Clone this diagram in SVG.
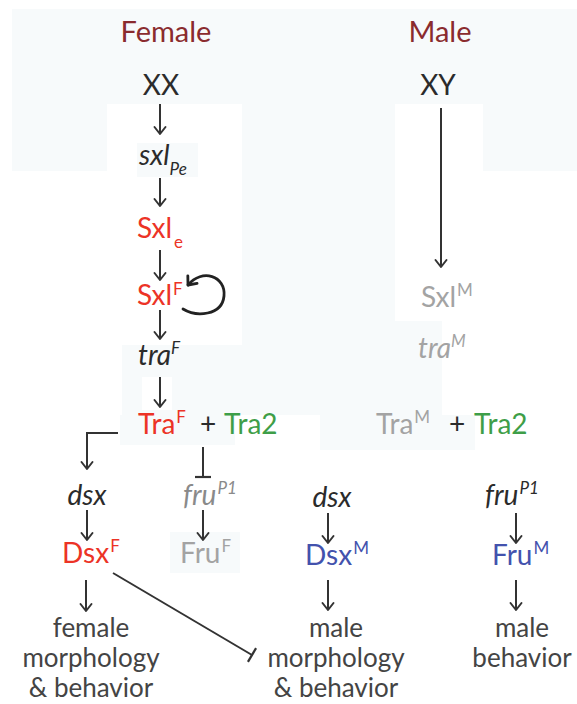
<svg xmlns="http://www.w3.org/2000/svg" width="577" height="704" viewBox="0 0 577 704">
<defs>
<style>
text{font-family:Lato,"Open Sans","Liberation Sans",sans-serif;font-size:26px;fill:#2b2b2b}
.it{font-style:italic;font-size:28px}
.p{font-size:28px}
.title{font-size:29px;fill:#8a2b2e}
.red{fill:#ec3326}
.grn{fill:#3e9e48}
.blu{fill:#4352ad}
.gry{fill:#a3a3a3}
.gr2{fill:#8a8a8a}
.lbl{fill:#444;text-anchor:middle}
.sm{font-size:17px}
.bg{fill:#f7fafb}
.wh{fill:#fff}
.ar{stroke:#333;stroke-width:2;fill:none}
</style>
<marker id="ah" markerUnits="userSpaceOnUse" viewBox="-10 -8 12 16" markerWidth="12" markerHeight="16" refX="0" refY="0" orient="auto">
<path d="M-7,-5.5 L0,0 L-7,5.5" fill="none" stroke="#333" stroke-width="2" stroke-linecap="round" stroke-linejoin="round"/>
</marker>
<marker id="tb" markerUnits="userSpaceOnUse" viewBox="-2 -10 4 20" markerWidth="4" markerHeight="20" refX="0" refY="0" orient="auto">
<path d="M0,-8 L0,8" fill="none" stroke="#333" stroke-width="2.2"/>
</marker>
<marker id="ah2" markerUnits="userSpaceOnUse" viewBox="-10 -8 12 16" markerWidth="12" markerHeight="16" refX="0" refY="0" orient="auto">
<path d="M-7,-6 L0,0 L-7,6" fill="none" stroke="#222" stroke-width="2.8" stroke-linecap="round" stroke-linejoin="round"/>
</marker>
</defs>
<rect width="577" height="704" fill="#fff"/>
<g id="background">
<rect class="bg" x="12" y="9" width="565" height="95"/>
<rect class="bg" x="12" y="104" width="95" height="67"/>
<rect class="bg" x="483" y="104" width="94" height="67"/>
<rect class="bg" x="242" y="104" width="153" height="241"/>
<rect class="bg" x="395" y="321" width="47" height="24"/>
<rect class="bg" x="122" y="345" width="320" height="70"/>
<rect class="wh" x="142" y="377" width="30" height="33"/>
<rect class="bg" x="120" y="415" width="115" height="30"/>
<rect class="bg" x="320" y="415" width="155" height="35"/>
<rect class="bg" x="137" y="143" width="61" height="34"/>
<rect class="bg" x="170" y="532" width="70" height="41"/>
</g>
<g id="connectors">
<line class="ar" x1="160" y1="104" x2="160" y2="134" marker-end="url(#ah)"/>
<line class="ar" x1="160" y1="178" x2="160" y2="206" marker-end="url(#ah)"/>
<line class="ar" x1="160" y1="250" x2="160" y2="280" marker-end="url(#ah)"/>
<line class="ar" x1="160" y1="310" x2="160" y2="339" marker-end="url(#ah)"/>
<line class="ar" x1="160" y1="377" x2="160" y2="407" marker-end="url(#ah)"/>
<line class="ar" x1="441" y1="108" x2="441" y2="267" marker-end="url(#ah)"/>
<path class="ar" d="M118,433 H87 V469" marker-end="url(#ah)"/>
<line class="ar" x1="203" y1="447" x2="203" y2="477" marker-end="url(#tb)"/>
<line class="ar" x1="87" y1="510" x2="87" y2="540" marker-end="url(#ah)"/>
<line class="ar" x1="203" y1="510" x2="203" y2="540" marker-end="url(#ah)"/>
<line class="ar" x1="86" y1="580" x2="86" y2="611" marker-end="url(#ah)"/>
<line class="ar" x1="328" y1="513" x2="328" y2="543" marker-end="url(#ah)"/>
<line class="ar" x1="328" y1="580" x2="328" y2="610" marker-end="url(#ah)"/>
<line class="ar" x1="516" y1="513" x2="516" y2="543" marker-end="url(#ah)"/>
<line class="ar" x1="516" y1="580" x2="516" y2="610" marker-end="url(#ah)"/>
<line class="ar" x1="113" y1="573" x2="252" y2="655" marker-end="url(#tb)"/>
<path d="M183,309 C196,317 222,316 224,296 C226,276 202,268 188,285" fill="none" stroke="#222" stroke-width="2.8" stroke-linecap="round" marker-end="url(#ah2)"/>
</g>
<g id="title-female"><text class="title" x="166" y="42" text-anchor="middle">Female</text></g>
<g id="title-male"><text class="title" x="440" y="42" text-anchor="middle">Male</text></g>
<g id="xx"><text class="p" x="161" y="95" text-anchor="middle">XX</text></g>
<g id="xy"><text class="p" x="438" y="95" text-anchor="middle">XY</text></g>
<g id="sxl-pe"><text x="139" y="165" class="it">sxl<tspan class="sm" dy="10">Pe</tspan></text></g>
<g id="sxl-e"><text x="137" y="238" class="p red">Sxl<tspan class="sm red" dx="2" dy="10">e</tspan></text></g>
<g id="sxl-f"><text x="137" y="305" class="p red">Sxl<tspan class="sm red" dx="1" dy="-10">F</tspan></text></g>
<g id="tra-f"><text x="138" y="365" class="it">tra<tspan class="sm" dy="-11">F</tspan></text></g>
<g id="tra-f-prot"><text x="138" y="434" class="p red">Tra<tspan class="sm red" dx="1" dy="-11">F</tspan></text><text class="p" x="208" y="434" text-anchor="middle">+</text><text class="p grn" x="224" y="434">Tra2</text></g>
<g id="sxl-m"><text x="421" y="307" class="p gry">Sxl<tspan class="sm gry" dx="1" dy="-11">M</tspan></text></g>
<g id="tra-m"><text x="418" y="358" class="it gry">tra<tspan class="sm gry" dy="-11">M</tspan></text></g>
<g id="tra-m-prot"><text x="376" y="434" class="p gry">Tra<tspan class="sm gry" dx="1" dy="-11">M</tspan></text><text class="p" x="457" y="434" text-anchor="middle">+</text><text class="p grn" x="474" y="434">Tra2</text></g>
<g id="dsx-f"><text x="87" y="505" class="it" text-anchor="middle">dsx</text></g>
<g id="fru-f"><text x="183" y="505" class="it gr2">fru<tspan class="sm gr2" dx="1" dy="-11">P1</tspan></text></g>
<g id="dsx-F"><text x="62" y="563" class="p red">Dsx<tspan class="sm red" dx="1" dy="-11">F</tspan></text></g>
<g id="fru-F"><text x="180" y="563" class="p gry">Fru<tspan class="sm gry" dx="1" dy="-11">F</tspan></text></g>
<g id="dsx-m"><text x="332" y="507" class="it" text-anchor="middle">dsx</text></g>
<g id="dsx-M"><text x="305" y="565" class="p blu">Dsx<tspan class="sm blu" dx="1" dy="-11">M</tspan></text></g>
<g id="fru-m"><text x="485" y="505" class="it">fru<tspan class="sm" dx="1" dy="-11">P1</tspan></text></g>
<g id="fru-M"><text x="492" y="565" class="p blu">Fru<tspan class="sm blu" dx="1" dy="-11">M</tspan></text></g>
<g id="female-out"><text class="lbl" x="91" y="637">female</text><text class="lbl" x="91" y="667">morphology</text><text class="lbl" x="91" y="697">&amp; behavior</text></g>
<g id="male-out"><text class="lbl" x="336" y="637">male</text><text class="lbl" x="336" y="667">morphology</text><text class="lbl" x="336" y="697">&amp; behavior</text></g>
<g id="male-beh"><text class="lbl" x="522" y="637">male</text><text class="lbl" x="522" y="667">behavior</text></g>
</svg>
